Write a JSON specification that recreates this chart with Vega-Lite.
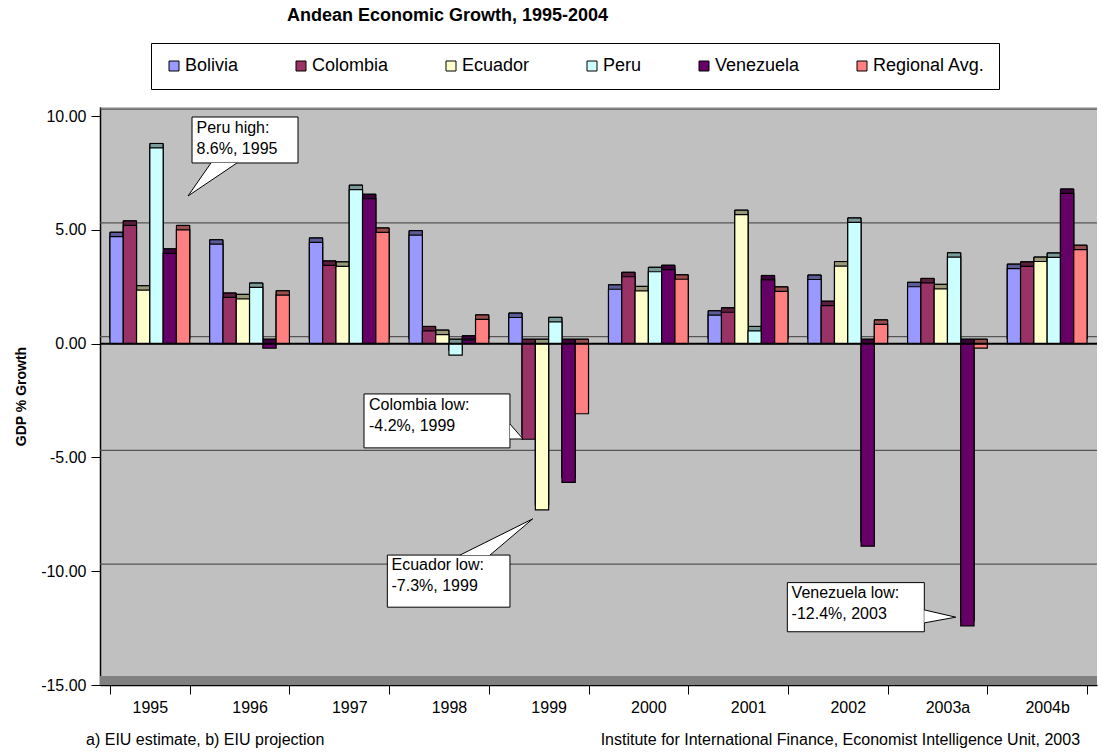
{
  "$schema": "https://vega.github.io/schema/vega-lite/v6.json",
  "width": 997,
  "height": 578,
  "autosize": {"type": "none"},
  "padding": {"left": 100, "top": 107, "right": 6, "bottom": 68},
  "background": "white",
  "config": {
    "font": "Liberation Sans",
    "view": {"fill": "#C0C0C0", "stroke": null},
    "legend": {
      "orient": "none", "legendX": 51, "legendY": -64, "direction": "horizontal", "columns": 6,
      "columnPadding": 53, "fillColor": "white", "strokeColor": "black", "padding": 14,
      "labelFontSize": 18, "labelFont": "Liberation Sans", "labelColor": "black", "symbolType": "square", "symbolSize": 100,
      "symbolStrokeColor": "black", "symbolStrokeWidth": 1, "labelOffset": 2, "cornerRadius": 0
    }
  },
  "title": {"text": "Andean Economic Growth, 1995-2004", "fontSize": 18, "fontWeight": "bold", "font": "Liberation Sans", "color": "black", "anchor": "middle", "dx": -151, "offset": 18},
  "datasets": {
    "gdp": [
      {"year": "1995", "country": "Bolivia", "value": 4.7},
      {"year": "1995", "country": "Colombia", "value": 5.2},
      {"year": "1995", "country": "Ecuador", "value": 2.35},
      {"year": "1995", "country": "Peru", "value": 8.6},
      {"year": "1995", "country": "Venezuela", "value": 3.97},
      {"year": "1995", "country": "Regional Avg.", "value": 5.0},
      {"year": "1996", "country": "Bolivia", "value": 4.37},
      {"year": "1996", "country": "Colombia", "value": 2.03},
      {"year": "1996", "country": "Ecuador", "value": 1.97},
      {"year": "1996", "country": "Peru", "value": 2.47},
      {"year": "1996", "country": "Venezuela", "value": -0.2},
      {"year": "1996", "country": "Regional Avg.", "value": 2.13},
      {"year": "1997", "country": "Bolivia", "value": 4.45},
      {"year": "1997", "country": "Colombia", "value": 3.44},
      {"year": "1997", "country": "Ecuador", "value": 3.4},
      {"year": "1997", "country": "Peru", "value": 6.77},
      {"year": "1997", "country": "Venezuela", "value": 6.37},
      {"year": "1997", "country": "Regional Avg.", "value": 4.89},
      {"year": "1998", "country": "Bolivia", "value": 4.77},
      {"year": "1998", "country": "Colombia", "value": 0.56},
      {"year": "1998", "country": "Ecuador", "value": 0.4},
      {"year": "1998", "country": "Peru", "value": -0.5},
      {"year": "1998", "country": "Venezuela", "value": 0.15},
      {"year": "1998", "country": "Regional Avg.", "value": 1.07},
      {"year": "1999", "country": "Bolivia", "value": 1.15},
      {"year": "1999", "country": "Colombia", "value": -4.2},
      {"year": "1999", "country": "Ecuador", "value": -7.3},
      {"year": "1999", "country": "Peru", "value": 0.96},
      {"year": "1999", "country": "Venezuela", "value": -6.1},
      {"year": "1999", "country": "Regional Avg.", "value": -3.08},
      {"year": "2000", "country": "Bolivia", "value": 2.39},
      {"year": "2000", "country": "Colombia", "value": 2.94},
      {"year": "2000", "country": "Ecuador", "value": 2.32},
      {"year": "2000", "country": "Peru", "value": 3.16},
      {"year": "2000", "country": "Venezuela", "value": 3.25},
      {"year": "2000", "country": "Regional Avg.", "value": 2.83},
      {"year": "2001", "country": "Bolivia", "value": 1.25},
      {"year": "2001", "country": "Colombia", "value": 1.38},
      {"year": "2001", "country": "Ecuador", "value": 5.67},
      {"year": "2001", "country": "Peru", "value": 0.56},
      {"year": "2001", "country": "Venezuela", "value": 2.8},
      {"year": "2001", "country": "Regional Avg.", "value": 2.3},
      {"year": "2002", "country": "Bolivia", "value": 2.82},
      {"year": "2002", "country": "Colombia", "value": 1.67},
      {"year": "2002", "country": "Ecuador", "value": 3.41},
      {"year": "2002", "country": "Peru", "value": 5.33},
      {"year": "2002", "country": "Venezuela", "value": -8.9},
      {"year": "2002", "country": "Regional Avg.", "value": 0.85},
      {"year": "2003a", "country": "Bolivia", "value": 2.5},
      {"year": "2003a", "country": "Colombia", "value": 2.67},
      {"year": "2003a", "country": "Ecuador", "value": 2.41},
      {"year": "2003a", "country": "Peru", "value": 3.8},
      {"year": "2003a", "country": "Venezuela", "value": -12.4},
      {"year": "2003a", "country": "Regional Avg.", "value": -0.2},
      {"year": "2004b", "country": "Bolivia", "value": 3.3},
      {"year": "2004b", "country": "Colombia", "value": 3.4},
      {"year": "2004b", "country": "Ecuador", "value": 3.61},
      {"year": "2004b", "country": "Peru", "value": 3.79},
      {"year": "2004b", "country": "Venezuela", "value": 6.6},
      {"year": "2004b", "country": "Regional Avg.", "value": 4.13}
    ],
    "grid": [{"v": 10}, {"v": 5}, {"v": 0}, {"v": -5}, {"v": -10}],
    "floor": [{"v": -15}],
    "zero": [{"v": 0}],
    "boxes": [
      {"id": "peru", "bx": 0.923, "bx2": 1.986, "by": 9.96, "by2": 7.94},
      {"id": "colombia", "bx": 2.648, "bx2": 4.112, "by": -2.21, "by2": -4.58},
      {"id": "ecuador", "bx": 2.882, "bx2": 4.112, "by": -9.29, "by2": -11.58},
      {"id": "venezuela", "bx": 6.894, "bx2": 8.268, "by": -10.5, "by2": -12.66}
    ],
    "pointers": [
      {"id": "peru", "ord": 1, "px": 1.113, "py": 7.94},
      {"id": "peru", "ord": 2, "px": 0.883, "py": 6.49},
      {"id": "peru", "ord": 3, "px": 1.374, "py": 7.94},
      {"id": "colombia", "ord": 1, "px": 4.112, "py": -3.53},
      {"id": "colombia", "ord": 2, "px": 4.243, "py": -4.19},
      {"id": "colombia", "ord": 3, "px": 4.112, "py": -4.19},
      {"id": "ecuador", "ord": 1, "px": 3.611, "py": -9.29},
      {"id": "ecuador", "ord": 2, "px": 4.34, "py": -7.7},
      {"id": "ecuador", "ord": 3, "px": 3.912, "py": -9.29},
      {"id": "venezuela", "ord": 1, "px": 8.268, "py": -11.7},
      {"id": "venezuela", "ord": 2, "px": 8.583, "py": -12.02},
      {"id": "venezuela", "ord": 3, "px": 8.268, "py": -12.27}
    ],
    "labels": [
      {"id": "peru", "lines": ["Peru high:", "8.6%, 1995"], "tx": 0.968, "ty": 9.83},
      {"id": "colombia", "lines": ["Colombia low:", "-4.2%, 1999"], "tx": 2.698, "ty": -2.36},
      {"id": "ecuador", "lines": ["Ecuador low:", "-7.3%, 1999"], "tx": 2.924, "ty": -9.37},
      {"id": "venezuela", "lines": ["Venezuela low:", "-12.4%, 2003"], "tx": 6.937, "ty": -10.6}
    ],
    "notes": [
      {"note": "a) EIU estimate, b) EIU projection", "nx": -0.14, "ny": -17.42, "side": "left"},
      {"note": "Institute for International Finance, Economist Intelligence Unit, 2003", "nx": 9.83, "ny": -17.42, "side": "right"}
    ]
  },
  "layer": [
    {
      "data": {"name": "grid"},
      "mark": {"type": "rule", "stroke": "#555555", "strokeWidth": 1.3, "yOffset": -7},
      "encoding": {"y": {"field": "v", "type": "quantitative", "scale": {"domain": [-15, 10.4], "nice": false, "zero": false},
        "axis": {"orient": "left", "title": "GDP % Growth", "titleFontSize": 14, "titleFontWeight": "bold", "titleColor": "black", "titlePadding": 12,
                "values": [10, 5, 0, -5, -10, -15], "labelExpr": "replace(format(datum.value, '.2f'), '\u2212', '-')", "labelFontSize": 16, "labelColor": "black", "tickSize": 9, "tickColor": "black",
                "domainColor": "black", "domainWidth": 1.5, "grid": false, "labelPadding": 5}}}
    },
    {
      "data": {"name": "floor"},
      "mark": {"type": "rule", "stroke": "#808080", "strokeWidth": 9, "yOffset": -4.5},
      "encoding": {"y": {"field": "v", "type": "quantitative"}}
    },
    {
      "data": {"name": "gdp"},
      "encoding": {
        "x": {"field": "year", "type": "nominal", "sort": ["1995","1996","1997","1998","1999","2000","2001","2002","2003a","2004b"],
              "scale": {"paddingInner": 0.2, "paddingOuter": 0.1},
              "axis": {"title": null, "labelFontSize": 16, "labelColor": "black", "labelAngle": 0, "tickSize": 9, "tickColor": "black", "domainColor": "black", "domainWidth": 1.5, "tickBand": "extent", "labelPadding": 5}},
        "xOffset": {"field": "country", "type": "nominal", "sort": ["Bolivia","Colombia","Ecuador","Peru","Venezuela","Regional Avg."], "scale": {"paddingInner": 0}},
        "y": {"field": "value", "type": "quantitative"}
      },
      "layer": [
        {
          "mark": {"type": "bar", "xOffset": 4.5, "yOffset": -4.5, "stroke": "black", "strokeWidth": 1},
          "encoding": {
            "color": {"field": "country", "type": "nominal", "title": null,
              "scale": {"domain": ["Bolivia","Colombia","Ecuador","Peru","Venezuela","Regional Avg."], "range": ["#9999FF","#993366","#FFFFCC","#CCFFFF","#660066","#FF8080"]}}
          }
        },
        {
          "mark": {"type": "bar", "xOffset": 4.5, "yOffset": -4.5, "fill": "black", "fillOpacity": 0.4, "stroke": "black", "strokeWidth": 1}
        },
        {
          "mark": {"type": "bar", "stroke": "black", "strokeWidth": 1.2},
          "encoding": {
            "color": {"field": "country", "type": "nominal", "title": null}
          }
        }
      ]
    },
    {
      "data": {"name": "zero"},
      "mark": {"type": "rule", "stroke": "black", "strokeWidth": 2},
      "encoding": {"y": {"field": "v", "type": "quantitative"}}
    },
    {
      "layer": [
        {
          "data": {"name": "boxes"},
          "mark": {"type": "rect", "fill": "white", "stroke": "black", "strokeWidth": 1},
          "encoding": {
            "x": {"field": "bx", "type": "quantitative", "scale": {"domain": [0, 10], "nice": false, "zero": false}, "axis": null},
            "x2": {"field": "bx2"},
            "y": {"field": "by", "type": "quantitative"},
            "y2": {"field": "by2"}
          }
        },
        {
          "data": {"name": "pointers"},
          "mark": {"type": "line", "fill": "white", "stroke": "black", "strokeWidth": 1},
          "encoding": {
            "x": {"field": "px", "type": "quantitative", "axis": null},
            "y": {"field": "py", "type": "quantitative"},
            "detail": {"field": "id"},
            "order": {"field": "ord", "type": "quantitative"}
          }
        },
        {
          "data": {"name": "labels"},
          "mark": {"type": "text", "align": "left", "baseline": "top", "fontSize": 16, "lineHeight": 21, "color": "black"},
          "encoding": {
            "x": {"field": "tx", "type": "quantitative", "axis": null},
            "y": {"field": "ty", "type": "quantitative"},
            "text": {"field": "lines"}
          }
        },
        {
          "data": {"name": "notes"},
          "transform": [{"filter": "datum.side === 'left'"}],
          "mark": {"type": "text", "align": "left", "baseline": "middle", "fontSize": 16, "color": "black"},
          "encoding": {
            "x": {"field": "nx", "type": "quantitative", "axis": null},
            "y": {"field": "ny", "type": "quantitative"},
            "text": {"field": "note"}
          }
        },
        {
          "data": {"name": "notes"},
          "transform": [{"filter": "datum.side === 'right'"}],
          "mark": {"type": "text", "align": "right", "baseline": "middle", "fontSize": 16, "color": "black"},
          "encoding": {
            "x": {"field": "nx", "type": "quantitative", "axis": null},
            "y": {"field": "ny", "type": "quantitative"},
            "text": {"field": "note"}
          }
        }
      ]
    }
  ],
  "resolve": {"scale": {"x": "independent"}}
}
